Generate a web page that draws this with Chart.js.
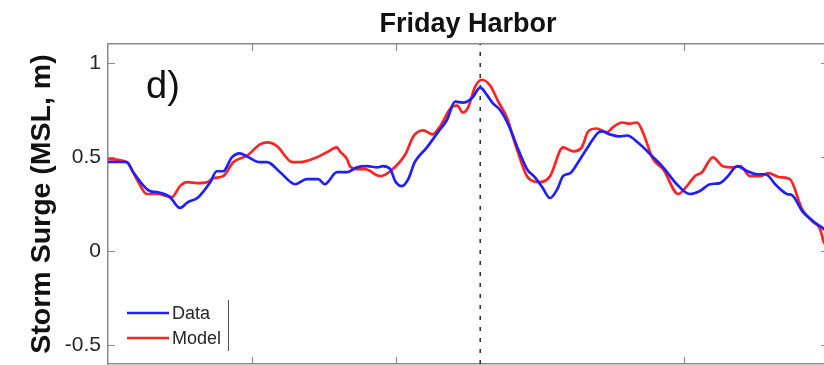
<!DOCTYPE html>
<html>
<head>
<meta charset="utf-8">
<title>Friday Harbor storm surge</title>
<script src="https://cdn.jsdelivr.net/npm/chart.js@4.4.1/dist/chart.umd.min.js"></script>
<style>
  html, body { margin: 0; padding: 0; background: #fff; overflow: hidden; }
  #wrap { width: 830px; height: 365px; }
</style>
</head>
<body>
<div id="wrap"><canvas id="surge" width="830" height="365"></canvas></div>
<script>
// Observed water level (hours since start, storm surge in m above MSL)
const dataHours = [0, 2.6, 3.5, 5.8, 6.8, 8.6, 10.0, 11.1, 12.4, 14.2, 15.1, 16.0, 17.2, 18.3, 19.3,
  21.1, 22.1, 23.9, 26.0, 27.6, 29.2, 30.1, 31.8, 33.2, 34.6, 36.0, 37.4, 38.2, 39.2, 39.9, 40.8,
  41.7, 42.6, 44.3, 45.8, 47.1, 48.2, 49.3, 50.6, 51.7, 52.6, 53.5, 54.4, 55.6, 56.8, 58.2, 59.3,
  60.3, 61.4, 62.4, 63.2, 64.2, 65.3, 66.7, 68.1, 68.6, 69.7, 71.1, 72.1, 73.6, 75.6, 77.1, 79.0,
  80.8, 82.2, 83.6, 85.0, 86.1, 87.4, 88.8, 90.1, 91.3, 92.9, 94.3, 95.0, 96.5, 97.9, 99.4, 100];
const dataSurge = [0.473, 0.473, 0.419, 0.319, 0.313, 0.287, 0.229, 0.260, 0.282, 0.366, 0.424, 0.424, 0.498, 0.519, 0.503,
  0.472, 0.472, 0.419, 0.355, 0.382, 0.382, 0.355, 0.419, 0.419, 0.445, 0.451, 0.445, 0.451, 0.435, 0.371, 0.345,
  0.382, 0.472, 0.551, 0.630, 0.699, 0.794, 0.789, 0.815, 0.868, 0.831, 0.783, 0.752, 0.672, 0.556, 0.435, 0.392,
  0.340, 0.282, 0.329, 0.398, 0.414, 0.472, 0.556, 0.630, 0.636, 0.620, 0.609, 0.614, 0.577, 0.503, 0.445, 0.355,
  0.303, 0.319, 0.355, 0.361, 0.398, 0.451, 0.424, 0.408, 0.408, 0.345, 0.303, 0.297, 0.208, 0.160, 0.118, 0.100];

// Modelled water level
const modelHours = [0, 2.6, 4.0, 5.4, 6.8, 8.9, 10.0, 11.0, 12.4, 13.8, 14.6, 16.0, 17.4, 19.4, 21.1,
  22.2, 23.5, 25.6, 26.7, 29.0, 30.4, 31.8, 32.2, 33.2, 33.6, 34.6, 35.7, 37.8, 39.2, 41.3, 42.4,
  43.8, 45.1, 46.1, 47.8, 48.5, 49.3, 50.0, 51.0, 51.9, 53.1, 54.2, 55.4, 56.8, 58.3, 60.0, 61.4,
  63.2, 64.6, 65.8, 66.7, 67.9, 69.3, 70.1, 71.4, 72.5, 73.5, 74.3, 75.7, 77.1, 79.2, 80.4, 81.5,
  82.5, 84.0, 85.4, 86.8, 87.8, 89.2, 90.6, 91.7, 93.3, 94.7, 96.4, 97.9, 98.9, 99.4, 100];
const modelSurge = [0.488, 0.472, 0.382, 0.303, 0.303, 0.287, 0.345, 0.366, 0.361, 0.366, 0.387, 0.398, 0.472, 0.509, 0.567,
  0.577, 0.556, 0.472, 0.472, 0.498, 0.525, 0.551, 0.530, 0.488, 0.451, 0.435, 0.435, 0.398, 0.424, 0.514, 0.609,
  0.641, 0.620, 0.662, 0.767, 0.773, 0.736, 0.762, 0.873, 0.910, 0.878, 0.794, 0.709, 0.540, 0.392, 0.366, 0.398,
  0.551, 0.530, 0.551, 0.636, 0.651, 0.630, 0.657, 0.683, 0.677, 0.683, 0.630, 0.488, 0.435, 0.303, 0.345, 0.398,
  0.419, 0.498, 0.451, 0.445, 0.451, 0.398, 0.398, 0.414, 0.392, 0.382, 0.223, 0.155, 0.118, 0.049, 0.020];

// Time of peak surge, marked by the dotted line
const peakHour = 51.7;

// Axis ticks
const hourTicks = [20, 40, 80];
const surgeTicks = [-0.5, 0, 0.5, 1];
const surgeTickLabels = ['-0.5', '0', '0.5', '1'];
const hourRange = [0, 100];
const surgeRange = [-0.6, 1.1];

const seriesNames = ['Data', 'Model'];
const panelTag = 'd)';
const stationName = 'Friday Harbor';

const toPoints = (xs, ys) => xs.map((x, i) => ({ x: x, y: ys[i] }));

const AXIS_GREY = '#8a8a8a';
const TEXT = '#262626';
const FONT = "'Liberation Sans', Arial, sans-serif";

// Matlab-style inward tick marks on all four sides
const inwardTicks = {
  id: 'inwardTicks',
  afterDraw(chart) {
    const { ctx, chartArea: a, scales } = chart;
    const len = 7;
    ctx.save();
    ctx.strokeStyle = AXIS_GREY;
    ctx.lineWidth = 1.2;
    ctx.beginPath();
    scales.x.ticks.forEach(t => {
      const p = Math.round(scales.x.getPixelForValue(t.value)) + 0.5;
      ctx.moveTo(p, a.bottom); ctx.lineTo(p, a.bottom - len);
    });
    scales.x2.ticks.forEach(t => {
      const p = Math.round(scales.x2.getPixelForValue(t.value)) + 0.5;
      ctx.moveTo(p, a.top); ctx.lineTo(p, a.top + len);
    });
    scales.y.ticks.forEach(t => {
      const p = Math.round(scales.y.getPixelForValue(t.value)) + 0.5;
      ctx.moveTo(a.left, p); ctx.lineTo(a.left + len, p);
    });
    scales.y2.ticks.forEach(t => {
      const p = Math.round(scales.y2.getPixelForValue(t.value)) + 0.5;
      ctx.moveTo(a.right, p); ctx.lineTo(a.right - len, p);
    });
    ctx.stroke();
    ctx.restore();
  }
};

// Panel tag and the in-axes legend in the lower-left corner
const panelDecor = {
  id: 'panelDecor',
  afterDatasetsDraw(chart) {
    const { ctx, chartArea: a } = chart;
    ctx.save();
    ctx.fillStyle = '#111';
    ctx.font = '38px ' + FONT;
    ctx.textBaseline = 'alphabetic';
    ctx.textAlign = 'left';
    ctx.fillText(panelTag, a.left + 38, a.top + 54);

    const rows = [a.bottom - 51, a.bottom - 26];
    ctx.font = '18px ' + FONT;
    ctx.textBaseline = 'middle';
    seriesNames.forEach((name, i) => {
      const ds = chart.data.datasets[i];
      ctx.strokeStyle = ds.borderColor;
      ctx.lineWidth = 2.5;
      ctx.beginPath();
      ctx.moveTo(a.left + 19, rows[i]);
      ctx.lineTo(a.left + 61, rows[i]);
      ctx.stroke();
      ctx.fillStyle = TEXT;
      ctx.fillText(ds.label, a.left + 64, rows[i] + 1);
    });
    ctx.strokeStyle = '#555';
    ctx.lineWidth = 1;
    ctx.beginPath();
    ctx.moveTo(a.left + 120.5, a.bottom - 64);
    ctx.lineTo(a.left + 120.5, a.bottom - 13);
    ctx.stroke();
    ctx.restore();
  }
};

const setTicks = values => scale => { scale.ticks = values.map(v => ({ value: v })); };

new Chart(document.getElementById('surge'), {
  type: 'line',
  data: {
    datasets: [
      {
        label: seriesNames[0],
        data: toPoints(dataHours, dataSurge),
        borderColor: '#1f1fff',
        borderWidth: 2.7,
        pointRadius: 0,
        cubicInterpolationMode: 'monotone'
      },
      {
        label: seriesNames[1],
        data: toPoints(modelHours, modelSurge),
        borderColor: '#ff2424',
        borderWidth: 2.7,
        pointRadius: 0,
        cubicInterpolationMode: 'monotone'
      },
      {
        label: 'peak',
        data: [{ x: peakHour, y: surgeRange[0] }, { x: peakHour, y: surgeRange[1] }],
        borderColor: '#333',
        borderWidth: 1.6,
        borderDash: [4, 7],
        pointRadius: 0,
        tension: 0
      }
    ]
  },
  options: {
    responsive: false,
    animation: false,
    layout: { padding: { left: 0, right: 2, top: 0, bottom: 1 } },
    plugins: {
      legend: { display: false },
      tooltip: { enabled: false },
      title: { display: false }
    },
    scales: {
      x: {
        type: 'linear',
        position: 'bottom',
        min: hourRange[0], max: hourRange[1],
        afterBuildTicks: setTicks(hourTicks),
        ticks: { display: false },
        grid: { drawOnChartArea: false, drawTicks: false },
        border: { display: true, color: AXIS_GREY, width: 1.5 },
        afterFit: s => { s.height = 0; s.paddingLeft = 0; s.paddingRight = 0; }
      },
      x2: {
        type: 'linear',
        position: 'top',
        min: hourRange[0], max: hourRange[1],
        afterBuildTicks: setTicks(hourTicks),
        ticks: { display: false },
        grid: { drawOnChartArea: false, drawTicks: false },
        border: { display: true, color: AXIS_GREY, width: 1.5 },
        title: {
          display: true,
          text: stationName,
          color: '#111',
          font: { family: FONT, size: 27, weight: 'bold' },
          padding: { top: 8, bottom: 0 }
        },
        afterFit: s => { s.height = 44; s.paddingLeft = 0; s.paddingRight = 0; }
      },
      y: {
        type: 'linear',
        position: 'left',
        min: surgeRange[0], max: surgeRange[1],
        afterBuildTicks: setTicks(surgeTicks),
        ticks: {
          color: TEXT,
          font: { family: FONT, size: 21 },
          padding: 7,
          callback: v => surgeTickLabels[surgeTicks.indexOf(v)]
        },
        grid: { drawOnChartArea: false, drawTicks: false },
        border: { display: true, color: AXIS_GREY, width: 1.5 },
        title: {
          display: true,
          text: 'Storm Surge (MSL, m)',
          color: '#111',
          font: { family: FONT, size: 28.5, weight: 'bold' },
          padding: { top: 25, bottom: 0 }
        },
        afterFit: s => { s.width = 108; s.paddingTop = 0; s.paddingBottom = 0; }
      },
      y2: {
        type: 'linear',
        position: 'right',
        min: surgeRange[0], max: surgeRange[1],
        afterBuildTicks: setTicks(surgeTicks),
        ticks: { display: false },
        grid: { drawOnChartArea: false, drawTicks: false },
        border: { display: true, color: AXIS_GREY, width: 1.5 },
        afterFit: s => { s.width = 0; s.paddingTop = 0; s.paddingBottom = 0; }
      }
    }
  },
  plugins: [inwardTicks, panelDecor]
});
</script>
</body>
</html>
